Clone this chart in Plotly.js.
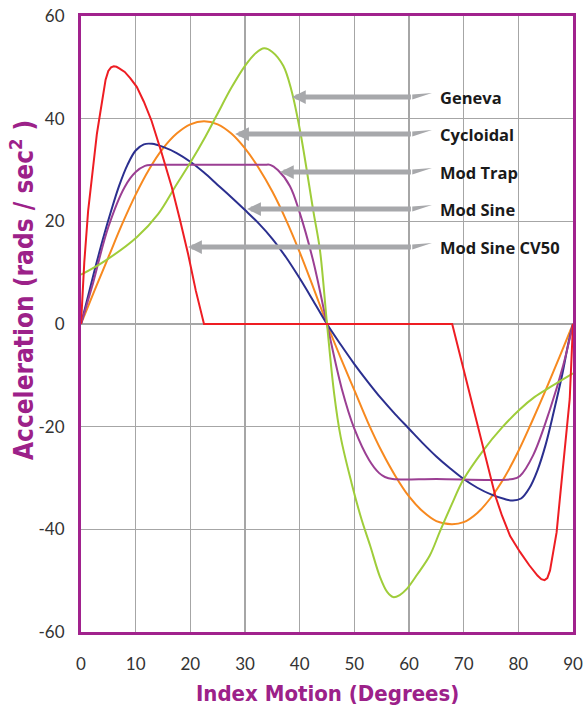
<!DOCTYPE html>
<html>
<head>
<meta charset="utf-8">
<script src="https://cdn.plot.ly/plotly-3.0.1.min.js"></script>
<style>html,body{margin:0;padding:0;background:#fff;}#chart{width:587px;height:709px;}</style>
</head>
<body>
<div id="chart"></div>
<script>
// ---- Data ----
const genevaX = [0, 4.4, 10.2, 14.1, 17.2, 20.2, 22.7, 24.8, 27.5, 30, 32, 33.5, 35, 37, 38.5, 40.1, 42.5, 43.7, 45, 46.3, 47.5, 49.5, 51.3, 52.9, 54.7, 56, 57.1, 58.3, 59.6, 61.5, 63.8, 65.7, 67.8, 69.9, 73.6, 77, 80.3, 83, 85.8, 90];
const genevaY = [9.6, 12.3, 16.9, 21.4, 26.7, 31.8, 36.4, 40.6, 46, 50.3, 52.8, 53.7, 53, 50.3, 45.5, 37.5, 22, 14.5, 0, -13.5, -22, -31, -38, -43.2, -49.3, -52.2, -53.2, -52.8, -51.6, -48.8, -45.1, -40.3, -35.2, -30.4, -24.6, -20.2, -16.6, -14.2, -12.3, -9.6];

const cycloidalX = [0, 2.5, 5, 7.5, 10, 12.5, 15, 17.5, 20, 22.5, 25, 27.5, 30, 32.5, 35, 37.5, 40, 42.5, 45, 47.5, 50, 52.5, 55, 57.5, 60, 62.5, 65, 67.8, 70, 72.5, 75, 77.5, 80, 82.5, 85, 87.5, 90];
const cycloidalY = [0, 6.6, 13, 19.4, 25.2, 30.2, 34.2, 37.1, 38.9, 39.5, 38.9, 37.1, 34.2, 30.4, 25.8, 20.3, 14, 7.1, 0, -6.6, -12.9, -19.2, -24.8, -29.6, -33.6, -36.5, -38.4, -39, -38.6, -36.8, -33.8, -29.8, -24.8, -19, -12.9, -6.5, 0];

const modTrapX = [0, 2, 5, 8, 10, 11.7, 13, 20, 30, 33.5, 34.6, 36, 38.2, 40, 42.4, 45, 47.7, 50, 52.7, 54.5, 55.6, 57, 65, 79, 80.3, 82.7, 85.8, 88.2, 90];
const modTrapY = [0, 7.2, 18.9, 26.7, 29.6, 30.8, 31, 31, 31, 31, 31, 30, 26.9, 21.7, 12.6, 0, -12.6, -20.4, -26.5, -29, -29.8, -30.2, -30.2, -30.2, -29.6, -25.6, -16.6, -8.1, 0];

const modSineX = [0, 1, 2.5, 4, 5.5, 7, 8.5, 10, 11.5, 13, 15, 17.5, 20, 22.5, 25, 27.5, 30, 32.5, 35, 37.5, 40, 42.5, 45, 47.5, 50, 52.5, 55, 57.5, 60, 62.5, 65, 67.5, 70, 72.5, 75, 77.5, 79, 80.5, 82, 83.5, 85, 86.5, 88, 89.2, 90];
const modSineY = [0, 4.2, 10.5, 16.5, 22, 27, 31, 33.8, 35, 35.1, 34.5, 33.3, 31.6, 29.5, 27.1, 24.7, 22.2, 19.6, 16.6, 13, 8.9, 4.5, 0, -4, -7.8, -11.3, -14.6, -17.6, -20.4, -23.2, -25.8, -28.1, -30.2, -31.9, -33.2, -34.1, -34.4, -34, -32, -28.5, -23.5, -17, -10, -3.5, 0];

const cv50X = [0, 0.6, 1.3, 2, 2.9, 3.5, 4, 4.5, 5, 5.5, 6, 6.5, 7, 8, 9, 10.2, 11.5, 12.9, 14.7, 16.6, 18.1, 19.6, 21, 22.5, 67.9, 70, 72, 74, 75.8, 77, 78.5, 80.3, 82, 83.5, 84.2, 84.8, 85.3, 85.8, 86.3, 87, 87.6, 88.2, 88.8, 89.4, 90];
const cv50Y = [0, 12, 22, 29, 37, 41, 44.8, 47.6, 49.3, 50, 50.2, 50.1, 49.8, 49.1, 47.9, 46.2, 43.3, 39.6, 33.5, 26.7, 20.3, 13.6, 6.5, 0, 0, -8.8, -17.4, -26, -33.5, -37.3, -41.3, -44.4, -47, -49, -49.7, -49.9, -49.5, -48, -45, -40.6, -34, -27.6, -21, -14.6, 0];

const seriesNames = ["Geneva", "Cycloidal", "Mod Trap", "Mod Sine", "Mod Sine CV50"];
// Arrow tips (data coordinates) for each label, and the x where arrows/labels start
const arrowTipX = [38.6, 28.2, 36.4, 30.4, 19.6];
const arrowTipY = [44.2, 37.0, 29.6, 22.4, 15.0];
const arrowShaftEndX = 60.9;
const arrowTailX = 64.2;
const labelX = 65.3;

const xTicks = [0, 10, 20, 30, 40, 50, 60, 70, 80, 90];
const yTicks = [-60, -40, -20, 0, 20, 40, 60];

// ---- Styles ----
const colors = {
  geneva: '#9fcd3a', cycloidal: '#f7891f', modtrap: '#9b3f93',
  modsine: '#2b2f8f', cv50: '#ee1d23'
};
const purple = '#a1228d';
const arrowGray = '#a7a8ab';
// plot area is 492 x 616 px: data units per pixel
const yPerPx = 120 / 616;

function line(x, y, name, color, spline) {
  return {
    x: x, y: y, name: name, type: 'scatter', mode: 'lines',
    line: {color: color, width: 2, shape: spline ? 'spline' : 'linear', smoothing: 1},
    hoverinfo: 'skip'
  };
}

const traces = [
  line(cycloidalX, cycloidalY, 'Cycloidal', colors.cycloidal, true),
  line(modSineX, modSineY, 'Mod Sine', colors.modsine, true),
  line(modTrapX, modTrapY, 'Mod Trap', colors.modtrap, true),
  line(genevaX, genevaY, 'Geneva', colors.geneva, true),
  line(cv50X, cv50Y, 'Mod Sine CV50', colors.cv50, false)
];

const annotations = [];
const shapes = [];
seriesNames.forEach(function(name, i) {
  const y = arrowTipY[i];
  annotations.push({
    x: arrowTipX[i], y: y, xref: 'x', yref: 'y',
    ax: arrowShaftEndX, ay: y, axref: 'x', ayref: 'y',
    text: ' ', showarrow: true, arrowhead: 2, arrowsize: 0.55, arrowwidth: 5,
    arrowcolor: arrowGray, standoff: 0, startstandoff: 0
  });
  // flared tail of the arrow
  const h = 2.5 * yPerPx;
  shapes.push({
    type: 'path', xref: 'x', yref: 'y', layer: 'above',
    path: 'M' + (arrowShaftEndX - 0.3) + ',' + (y + h) +
          ' L' + arrowTailX + ',' + (y + h + 1.5 * yPerPx) +
          ' L' + (arrowShaftEndX - 0.3) + ',' + (y - h) + ' Z',
    fillcolor: arrowGray, line: {width: 0}
  });
  annotations.push({
    x: labelX, y: y, xref: 'x', yref: 'y',
    text: name, showarrow: false, xanchor: 'left', yanchor: 'middle',
    font: {family: 'Open Sans, sans-serif', size: 16.5, color: '#1a1a1a', weight: 'bold'}
  });
});
annotations.push({
  x: 0.5, y: -0.1006, xref: 'paper', yref: 'paper', showarrow: false,
  text: 'Index Motion (Degrees)', xanchor: 'center', yanchor: 'middle',
  font: {family: 'Liberation Sans Narrow, DejaVu Sans Condensed, sans-serif', size: 22, color: '#9c2189', weight: 'bold'}
});
annotations.push({
  x: -0.12, y: 0.555, xref: 'paper', yref: 'paper', showarrow: false,
  text: 'Acceleration (rads / sec<sup>2</sup> )', textangle: -90, xanchor: 'center', yanchor: 'middle',
  font: {family: 'Liberation Sans Narrow, DejaVu Sans Condensed, sans-serif', size: 26, color: '#9c2189', weight: 'bold'}
});

const layout = {
  width: 587, height: 709,
  margin: {l: 81, r: 14, t: 16, b: 77, pad: 0},
  paper_bgcolor: '#ffffff', plot_bgcolor: '#ffffff',
  showlegend: false,
  xaxis: {
    range: [0, 90], tickvals: xTicks, ticktext: xTicks.map(String),
    showgrid: true, gridcolor: '#a6a6a6', gridwidth: 1.5, zeroline: false,
    showline: true, mirror: true, linecolor: purple, linewidth: 3,
    ticks: 'outside', ticklen: 15, tickcolor: 'rgba(0,0,0,0)',
    tickfont: {family: 'Lato, sans-serif', size: 17, color: '#333333'},
    fixedrange: true
  },
  yaxis: {
    range: [-60, 60], tickvals: yTicks, ticktext: yTicks.map(String),
    showgrid: true, gridcolor: '#a6a6a6', gridwidth: 1.5, zeroline: false,
    showline: true, mirror: true, linecolor: purple, linewidth: 3,
    ticks: 'outside', ticklen: 10, tickcolor: 'rgba(0,0,0,0)',
    tickfont: {family: 'Lato, sans-serif', size: 17, color: '#333333'},
    fixedrange: true
  },
  annotations: annotations,
  shapes: shapes
};

Plotly.newPlot('chart', traces, layout, {displayModeBar: false, staticPlot: true});
</script>
</body>
</html>
